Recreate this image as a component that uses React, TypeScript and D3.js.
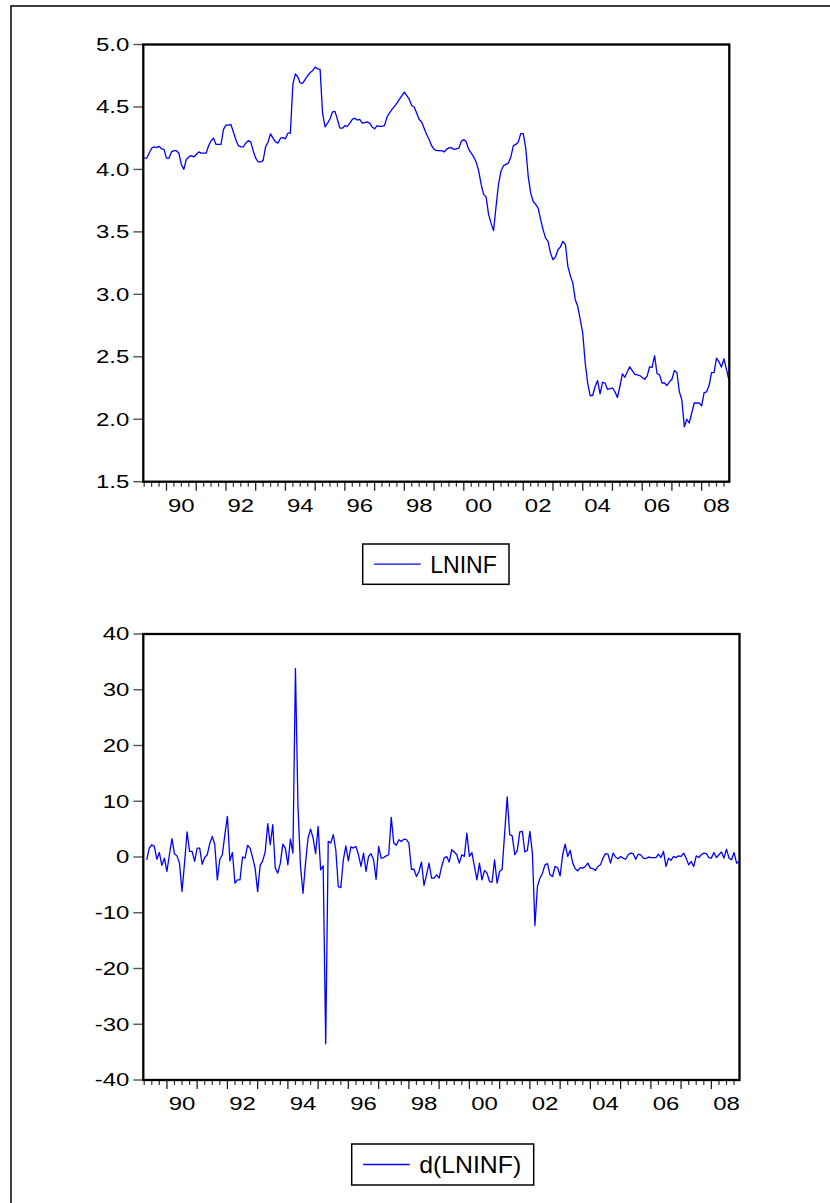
import React from 'react';
import * as d3 from 'd3';

// ---------- data ----------
const lninfStartYear = 1989;
const lninfStartMonth = 4; // April 1989
const lninf: number[] = [
  // 1989 Apr-Dec
  4.09, 4.09, 4.13, 4.17, 4.18, 4.175, 4.185, 4.165, 4.16,
  // 1990
  4.09, 4.09, 4.14, 4.15, 4.15, 4.13, 4.04, 4.0, 4.08, 4.1, 4.11, 4.1,
  // 1991
  4.12, 4.14, 4.13, 4.13, 4.13, 4.19, 4.23, 4.25, 4.2, 4.2, 4.2, 4.32,
  // 1992
  4.355, 4.355, 4.36, 4.3, 4.24, 4.19, 4.18, 4.18, 4.21, 4.23, 4.22, 4.15,
  // 1993
  4.09, 4.06, 4.06, 4.07, 4.18, 4.22, 4.285, 4.25, 4.22, 4.21, 4.25, 4.255,
  // 1994
  4.245, 4.29, 4.29, 4.68, 4.765, 4.74, 4.69, 4.69, 4.72, 4.75, 4.775, 4.79,
  // 1995
  4.82, 4.805, 4.8, 4.45, 4.34, 4.37, 4.405, 4.46, 4.465, 4.4, 4.33, 4.33,
  // 1996
  4.35, 4.345, 4.37, 4.4, 4.41, 4.395, 4.4, 4.37, 4.375, 4.38, 4.37, 4.34,
  // 1997
  4.325, 4.35, 4.345, 4.345, 4.35, 4.42, 4.45, 4.48, 4.505, 4.53, 4.56, 4.59,
  // 1998
  4.618, 4.59, 4.56, 4.51, 4.5, 4.45, 4.4, 4.38, 4.33, 4.28, 4.24, 4.19,
  // 1999
  4.16, 4.15, 4.15, 4.15, 4.14, 4.16, 4.172, 4.175, 4.16, 4.165, 4.17, 4.225,
  // 2000
  4.24, 4.22, 4.16, 4.13, 4.1, 4.057, 3.99, 3.88, 3.8, 3.78, 3.64, 3.57,
  // 2001
  3.51, 3.7, 3.88, 3.985, 4.03, 4.04, 4.052, 4.1, 4.19, 4.2, 4.22, 4.287,
  // 2002
  4.287, 4.17, 3.945, 3.81, 3.745, 3.72, 3.69, 3.6, 3.518, 3.45, 3.424, 3.33,
  // 2003
  3.277, 3.3, 3.357, 3.38, 3.424, 3.4, 3.224, 3.15, 3.09, 2.957, 2.903, 2.8,
  // 2004
  2.69, 2.45, 2.29, 2.19, 2.19, 2.262, 2.31, 2.204, 2.296, 2.29, 2.24, 2.245,
  // 2005
  2.25, 2.22, 2.174, 2.262, 2.364, 2.336, 2.38, 2.42, 2.39, 2.36, 2.355, 2.35,
  // 2006
  2.335, 2.32, 2.345, 2.42, 2.415, 2.51, 2.364, 2.355, 2.29, 2.29, 2.27, 2.3,
  // 2007
  2.32, 2.39, 2.375, 2.22, 2.155, 1.94, 2.0, 1.97, 2.05, 2.13, 2.13, 2.13,
  // 2008
  2.107, 2.214, 2.22, 2.27, 2.374, 2.374, 2.49, 2.46, 2.417, 2.484, 2.4, 2.316,
];

const dStartYear = 1989;
const dStartMonth = 5; // May 1989
const dLninf: number[] = [
  -0.5, 1.6, 2.2, 1.9, -0.4, 0.8, -1.5, -0.2, -2.6, 0.4,
  3.3, 0.6, 0.2, -1.1, -6.2, -1.1, 4.5, 1.0, 1.0, -0.8,
  1.6, 1.6, -1.3, -0.1, 0.4, 2.4, 3.7, 2.2, -4.1, -0.4,
  0.4, 4.0, 7.3, -0.7, 0.8, -4.7, -4.1, -4.1, 0.0, -0.2,
  2.1, 1.6, -0.1, -2.0, -6.2, -1.5, -0.7, 0.9, 6.0, 2.2,
  5.8, -2.0, -2.9, -1.1, 2.3, 1.6, -1.4, 3.2, 0.7, 33.8,
  9.1, -1.7, -6.5, -1.1, 3.4, 5.0, 3.4, 0.6, 5.5, -2.3,
  -1.6, -33.5, 2.8, 2.5, 4.0, 1.3, -5.3, -5.5, -0.5, 2.0,
  -0.7, 1.8, 1.6, 1.9, 0.4, -1.7, 0.7, -2.6, 0.1, 0.6,
  -0.5, -4.0, 1.9, -0.2, -0.1, 0.2, 0.4, 7.1, 2.5, 2.1,
  3.1, 2.8, 3.2, 3.1, 2.5, -2.2, -2.2, -3.5, -2.6, -0.9,
  -5.1, -3.2, -1.1, -3.8, -3.8, -3.2, -3.8, -1.7, -0.2, 0.1,
  -0.9, 1.3, 0.9, 0.4, -1.1, 0.4, 0.1, 4.3, 0.1, 0.8,
  -1.7, -4.1, -1.1, -4.1, -2.4, -2.9, -4.4, -4.5, -0.5, -4.7,
  -2.6, -2.2, 4.3, 10.8, 4.0, 3.8, 0.4, 1.2, 4.5, 4.6,
  0.9, 1.2, 4.6, 0.7, -12.3, -5.3, -3.8, -2.9, -1.4, -1.2,
  -3.2, -3.5, -1.7, -1.9, -3.4, 0.4, 2.3, 0.1, 1.2, -1.1,
  -2.1, -2.5, -1.9, -2.0, -1.7, -1.1, -2.0, -2.1, -2.4, -1.7,
  -1.4, -0.2, 0.6, 0.5, -1.1, 0.7, 0.0, -0.3, 0.1, -0.2,
  -0.4, 0.4, 0.7, 0.6, -0.4, 0.5, 0.4, -0.2, -0.3, 0.0,
  -0.1, -0.1, -0.1, 0.5, -0.1, 1.0, -1.7, -0.2, -0.6, 0.1,
  -0.1, 0.2, 0.1, 0.7, -0.2, -1.4, -0.8, -1.7, 0.2, -0.1,
  0.4, 0.7, 0.6, -0.1, -0.2, 0.8, -0.1, 0.4, 0.9, -0.2,
  1.4, -0.2, -0.5, 0.8, -1.1, -0.8,
];

const yTicksTop = [1.5, 2.0, 2.5, 3.0, 3.5, 4.0, 4.5, 5.0];
const yTicksBottom = [-40, -30, -20, -10, 0, 10, 20, 30, 40];
const labelYears = [1990, 1992, 1994, 1996, 1998, 2000, 2002, 2004, 2006, 2008];
const tickYears = d3.range(1989, 2010);
const timeDomain: [number, number] = [1989.22, 2008.93];
const legendTop = 'LNINF';
const legendBottom = 'd(LNINF)';

// ---------- drawing ----------
const FONT = "'Liberation Sans', Arial, Helvetica, sans-serif";
const AXIS_FS = 17.5;
const STRETCH = 1.37;
const BLUE = '#0000ff';

type PanelProps = {
  left: number;
  right: number;
  top: number;
  bottom: number;
  yDomain: [number, number];
  yTicks: number[];
  fmt: (v: number) => string;
  values: number[];
  startYear: number;
  startMonth: number;
  legend: { x: number; y: number; w: number; h: number; text: string; textW: number };
};

function Panel(p: PanelProps) {
  const x = d3.scaleLinear().domain(timeDomain).range([p.left, p.right]);
  const y = d3.scaleLinear().domain(p.yDomain).range([p.bottom, p.top]);
  const pts = p.values.map((v, i) => ({
    t: p.startYear + (p.startMonth - 1 + i) / 12,
    v,
  }));
  const line = d3
    .line<{ t: number; v: number }>()
    .x((d) => x(d.t))
    .y((d) => y(d.v));

  const minor: number[] = [];
  const major: number[] = [];
  tickYears.forEach((yr) => {
    if (yr >= timeDomain[0] && yr <= timeDomain[1]) major.push(yr);
    [0.25, 0.5, 0.75].forEach((q) => {
      const t = yr + q;
      if (t >= timeDomain[0] && t <= timeDomain[1]) minor.push(t);
    });
  });

  const lg = p.legend;
  return (
    <g>
      {/* y ticks and labels */}
      {p.yTicks.map((v) => (
        <g key={'y' + v}>
          <line x1={p.left - 10} x2={p.left} y1={y(v)} y2={y(v)} stroke="#555" strokeWidth={1.4} />
          <text
            transform={`translate(${p.left - 14},${y(v) + 6.3}) scale(${STRETCH},1)`}
            textAnchor="end"
            fontFamily={FONT}
            fontSize={AXIS_FS}
            fill="#000"
          >
            {p.fmt(v)}
          </text>
        </g>
      ))}
      {/* x ticks */}
      {minor.map((t) => (
        <line key={'m' + t} x1={x(t)} x2={x(t)} y1={p.bottom} y2={p.bottom + 5} stroke="#333" strokeWidth={1.2} />
      ))}
      {major.map((t) => (
        <line key={'M' + t} x1={x(t)} x2={x(t)} y1={p.bottom} y2={p.bottom + 9} stroke="#222" strokeWidth={1.3} />
      ))}
      {labelYears.map((yr) => (
        <text
          key={'l' + yr}
          transform={`translate(${x(yr + 0.5)},${p.bottom + 29.8}) scale(${STRETCH},1)`}
          textAnchor="middle"
          fontFamily={FONT}
          fontSize={AXIS_FS}
          fill="#000"
        >
          {String(yr % 100).padStart(2, '0')}
        </text>
      ))}
      {/* series */}
      <path d={line(pts) || ''} fill="none" stroke={BLUE} strokeWidth={1.3} strokeLinejoin="round" />
      {/* frame */}
      <rect
        x={p.left}
        y={p.top}
        width={p.right - p.left}
        height={p.bottom - p.top}
        fill="none"
        stroke="#000"
        strokeWidth={2.3}
      />
      {/* legend */}
      <rect x={lg.x} y={lg.y} width={lg.w} height={lg.h} fill="#fff" stroke="#000" strokeWidth={1.5} />
      <line
        x1={lg.x + 11.5}
        x2={lg.x + 58}
        y1={lg.y + lg.h / 2}
        y2={lg.y + lg.h / 2}
        stroke={BLUE}
        strokeWidth={1.3}
      />
      <text
        x={lg.x + 67.5}
        y={lg.y + lg.h / 2 + 8.8}
        fontFamily={FONT}
        fontSize={24}
        textLength={lg.textW}
        lengthAdjust="spacingAndGlyphs"
        fill="#000"
      >
        {lg.text}
      </text>
    </g>
  );
}

export default function App() {
  return (
    <svg
      width={830}
      height={1203}
      viewBox="0 0 830 1203"
      style={{ position: 'absolute', left: 0, top: 0, background: '#fff' }}
    >
      <rect x={0} y={0} width={830} height={1203} fill="#fff" />
      <path d="M11,1203 V6 H830" fill="none" stroke="#000" strokeWidth={1.5} />
      <Panel
        left={143.3}
        right={729.3}
        top={44.5}
        bottom={481.7}
        yDomain={[1.5, 5.0]}
        yTicks={yTicksTop}
        fmt={(v) => v.toFixed(1)}
        values={lninf}
        startYear={lninfStartYear}
        startMonth={lninfStartMonth}
        legend={{ x: 362.7, y: 544, w: 146.3, h: 40.3, text: legendTop, textW: 66.7 }}
      />
      <Panel
        left={143.3}
        right={739.5}
        top={634}
        bottom={1080}
        yDomain={[-40, 40]}
        yTicks={yTicksBottom}
        fmt={(v) => String(v)}
        values={dLninf}
        startYear={dStartYear}
        startMonth={dStartMonth}
        legend={{ x: 351.7, y: 1144, w: 182, h: 41, text: legendBottom, textW: 102 }}
      />
    </svg>
  );
}
